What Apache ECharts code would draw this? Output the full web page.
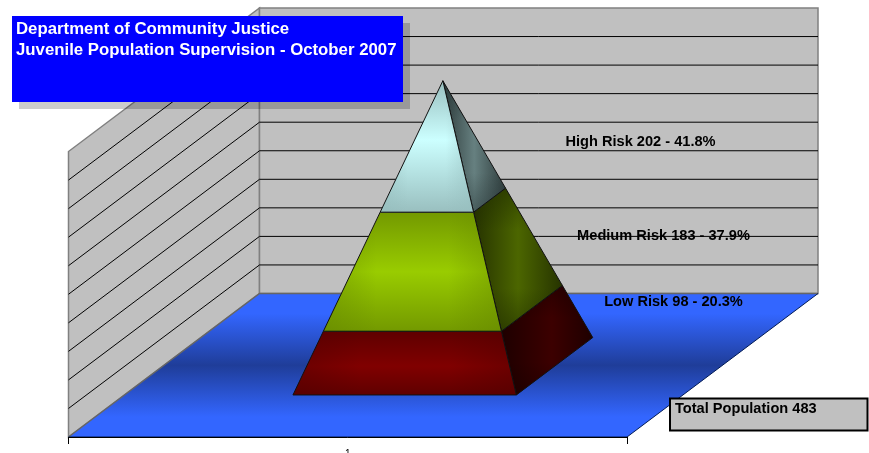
<!DOCTYPE html>
<html>
<head>
<meta charset="utf-8">
<style>html,body{margin:0;padding:0;background:#fff;overflow:hidden}#chart{width:869px;height:453px}</style>
<script src="https://cdn.jsdelivr.net/npm/echarts@6/dist/echarts.min.js"></script>
</head>
<body>
<div id="chart"></div>
<script>
const categories = ['1'];
const riskNames = ['Low Risk', 'Medium Risk', 'High Risk'];
const riskValues = [98, 183, 202];
const riskPercents = ['20.3', '37.9', '41.8'];
const totalPopulation = 483;
const titleLines = ['Department of Community Justice', 'Juvenile Population Supervision - October 2007'];
const gridDivisions = 10;

const FONT = '"Liberation Sans", Arial, sans-serif';
const DEPTH_X = 191, DEPTH_Y = 143.5;
const BASE_X0 = 0.3017, BASE_X1 = 0.7017, BASE_D0 = 0.293, BASE_D1 = 0.693;

const faceStyles = [
  { front: { mid: '#800000', edge: '#5f0000', peak: 0.55, overlay: 'rgba(80,0,0,0.45)' },
    side: { mid: '#3c0000', edge: '#1e0000', peak: 0.55, overlay: 'rgba(20,0,0,0.45)' } },
  { front: { mid: '#99cc00', edge: '#739900', peak: 0.5, overlay: 'rgba(100,135,0,0.5)' },
    side: { mid: '#4c6600', edge: '#263300', peak: 0.5, overlay: 'rgba(30,42,0,0.55)' } },
  { front: { mid: '#ccffff', edge: '#99bfbf', peak: 0.45, overlay: 'rgba(150,190,190,0.6)' },
    side: { mid: '#668080', edge: '#2f3d3d', peak: 0.5, overlay: 'rgba(40,55,55,0.5)' } }
];

function transparentOf(c) { return c.replace(/[\d.]+\)$/, '0)'); }

function mainFill(f, vertical) {
  return { type: 'linear', x: 0, y: 0, x2: vertical ? 0 : 1, y2: vertical ? 1 : 0, colorStops: [
    { offset: 0, color: f.edge }, { offset: f.peak, color: f.mid }, { offset: 1, color: f.edge }] };
}
function overlayFill(f, vertical) {
  const clear = transparentOf(f.overlay);
  return { type: 'linear', x: 0, y: 0, x2: vertical ? 0 : 1, y2: vertical ? 1 : 0, colorStops: [
    { offset: 0, color: f.overlay }, { offset: 0.3, color: clear }, { offset: 0.7, color: clear }, { offset: 1, color: f.overlay }] };
}

function projector(api) {
  const size = api.size([1, 0]);
  const bandW = size[0];
  return function (fx, v, d) {
    const p = api.coord([categories[0], v]);
    return [p[0] + (fx - 0.5) * bandW + d * DEPTH_X, p[1] - d * DEPTH_Y];
  };
}

function renderRoom(params, api) {
  const P = projector(api);
  const children = [];
  const wallLine = '#808080';
  children.push({ type: 'polygon', shape: { points: [P(0,0,0), P(0,0,1), P(0,totalPopulation,1), P(0,totalPopulation,0)] },
    style: { fill: '#c0c0c0', stroke: wallLine, lineWidth: 1.5 } });
  children.push({ type: 'polygon', shape: { points: [P(0,0,1), P(1,0,1), P(1,totalPopulation,1), P(0,totalPopulation,1)] },
    style: { fill: '#c0c0c0', stroke: wallLine, lineWidth: 1.5 } });
  for (let i = 1; i < gridDivisions; i++) {
    const v = totalPopulation * i / gridDivisions;
    children.push({ type: 'polyline', shape: { points: [P(0,v,0), P(0,v,1), P(1,v,1)] },
      style: { fill: null, stroke: '#000', lineWidth: 1 } });
  }
  children.push({ type: 'polygon', shape: { points: [P(0,0,0), P(0,0,1), P(1,0,1), P(1,0,0)] },
    style: { fill: { type: 'linear', x: 0, y: 0, x2: 0, y2: 1, colorStops: [
      { offset: 0, color: '#3366ff' }, { offset: 0.14, color: '#3366ff' }, { offset: 0.5, color: '#1f3d99' }, { offset: 0.86, color: '#3366ff' }, { offset: 1, color: '#3366ff' }] },
      stroke: null } });
  children.push({ type: 'polyline', shape: { points: [P(0,0,0), P(0,0,1), P(1,0,1)] },
    style: { fill: null, stroke: '#666', lineWidth: 1.5 } });
  children.push({ type: 'polyline', shape: { points: [P(1,0,1), P(1,0,0), P(0,0,0)] },
    style: { fill: null, stroke: '#001a55', lineWidth: 1 } });
  return { type: 'group', children: children };
}

function renderLayer(params, api) {
  const P = projector(api);
  const i = params.dataIndex;
  const start = api.value(1), end = api.value(2);
  const cx = (BASE_X0 + BASE_X1) / 2, cd = (BASE_D0 + BASE_D1) / 2;
  const at = function (xr, dr, v) {
    const k = 1 - v / totalPopulation;
    return P(cx + (xr - cx) * k, v, cd + (dr - cd) * k);
  };
  const sidePts = [at(BASE_X1,BASE_D0,start), at(BASE_X1,BASE_D1,start), at(BASE_X1,BASE_D1,end), at(BASE_X1,BASE_D0,end)];
  const frontPts = [at(BASE_X0,BASE_D0,start), at(BASE_X1,BASE_D0,start), at(BASE_X1,BASE_D0,end), at(BASE_X0,BASE_D0,end)];
  const s = faceStyles[i];
  return { type: 'group', children: [
    { type: 'polygon', shape: { points: sidePts }, style: { fill: mainFill(s.side, false), stroke: null } },
    { type: 'polygon', shape: { points: sidePts }, style: { fill: overlayFill(s.side, true), stroke: '#111', lineWidth: 1, lineJoin: 'round' } },
    { type: 'polygon', shape: { points: frontPts }, style: { fill: mainFill(s.front, true), stroke: null } },
    { type: 'polygon', shape: { points: frontPts }, style: { fill: overlayFill(s.front, false), stroke: '#111', lineWidth: 1, lineJoin: 'round' } }
  ] };
}

let running = 0;
const layerData = riskValues.map(function (v) {
  const row = [categories[0], running, running + v];
  running += v;
  return row;
});

const riskLabelCenters = [[640.5, 142], [663.5, 236], [673.5, 302]];
const riskLabelOrder = [2, 1, 0];

const chart = echarts.init(document.getElementById('chart'));
chart.setOption({
  animation: false,
  backgroundColor: '#fff',
  grid: { left: 68.5, top: 151.5, width: 558.5, height: 285.5, outerBoundsMode: 'none' },
  xAxis: { type: 'category', data: categories, z: 5,
    axisLine: { lineStyle: { color: '#000', width: 1 } },
    axisTick: { show: true, length: 7, lineStyle: { color: '#000' } },
    axisLabel: { margin: 12, fontFamily: FONT, fontSize: 10, color: '#000' } },
  yAxis: { type: 'value', min: 0, max: totalPopulation, interval: totalPopulation,
    axisLine: { show: false }, axisTick: { show: false }, axisLabel: { show: false }, splitLine: { show: false } },
  series: [
    { type: 'custom', name: 'room', coordinateSystem: 'cartesian2d', clip: false, z: 1, silent: true,
      data: [[categories[0], 0]], encode: { x: 0, y: 1 }, renderItem: renderRoom },
    { type: 'custom', name: 'pyramid', coordinateSystem: 'cartesian2d', clip: false, z: 2, silent: true,
      data: layerData, encode: { x: 0, y: [1, 2] }, renderItem: renderLayer }
  ],
  graphic: { elements: [
    { type: 'rect', z: 20, shape: { x: 19, y: 23, width: 391, height: 86 }, style: { fill: 'rgba(0,0,0,0.2)' } },
    { type: 'rect', z: 21, shape: { x: 12, y: 16, width: 391, height: 86 }, style: { fill: '#0000ff' } },
    { type: 'text', z: 22, x: 16, y: 29, style: { text: titleLines[0], fill: '#fff', font: 'bold 16.8px ' + FONT, textVerticalAlign: 'middle' } },
    { type: 'text', z: 22, x: 16, y: 50, style: { text: titleLines[1], fill: '#fff', font: 'bold 16.8px ' + FONT, textVerticalAlign: 'middle' } },
    { type: 'rect', z: 21, shape: { x: 670, y: 398.5, width: 197.5, height: 32 }, style: { fill: '#c0c0c0', stroke: '#000', lineWidth: 2 } },
    { type: 'text', z: 22, x: 675, y: 409, style: { text: 'Total Population ' + totalPopulation, fill: '#000', font: 'bold 14.6px ' + FONT, textVerticalAlign: 'middle' } }
  ].concat(riskLabelOrder.map(function (i, row) {
    return { type: 'text', z: 22, x: riskLabelCenters[row][0], y: riskLabelCenters[row][1],
      style: { text: riskNames[i] + ' ' + riskValues[i] + ' - ' + riskPercents[i] + '%', fill: '#000',
        font: 'bold 14.6px ' + FONT, textAlign: 'center', textVerticalAlign: 'middle' } };
  })) }
});
</script>
</body>
</html>
